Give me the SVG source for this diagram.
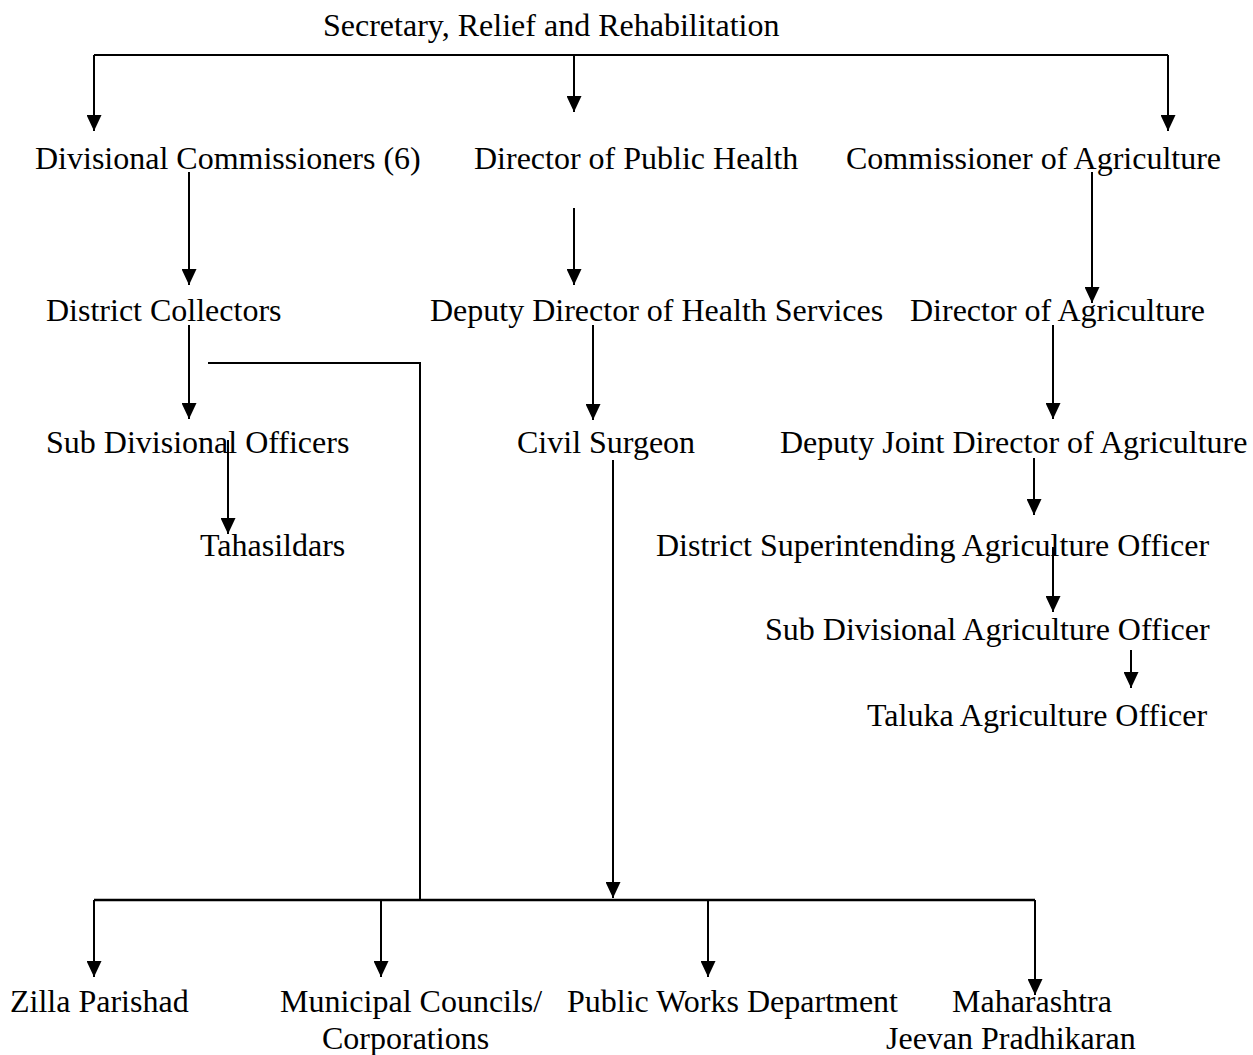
<svg xmlns="http://www.w3.org/2000/svg" width="1253" height="1055" viewBox="0 0 1253 1055">
<style>
text{font-family:"Liberation Serif","Times New Roman",serif;font-size:32px;fill:#000}
.c{fill:none;stroke:#000;stroke-width:2}
</style>
<defs>
<marker id="ah" markerUnits="userSpaceOnUse" viewBox="0 0 16 15" refX="16" refY="7.5" markerWidth="16" markerHeight="15" orient="auto">
<path d="M0,0 L16,7.5 L0,15 z" fill="#000"/>
</marker>
</defs>
<rect width="1253" height="1055" fill="#fff"/>
<g id="connectors">
<path class="c" d="M94,55 H1168"/>
<path class="c" d="M94,55 V131" marker-end="url(#ah)"/>
<path class="c" d="M574,56 V112" marker-end="url(#ah)"/>
<path class="c" d="M1168,55 V131" marker-end="url(#ah)"/>
<path class="c" d="M189,172 V285" marker-end="url(#ah)"/>
<path class="c" d="M574,208 V285" marker-end="url(#ah)"/>
<path class="c" d="M1092,172 V303" marker-end="url(#ah)"/>
<path class="c" d="M189,325 V419" marker-end="url(#ah)"/>
<path class="c" d="M593,325 V420" marker-end="url(#ah)"/>
<path class="c" d="M1053,325 V419" marker-end="url(#ah)"/>
<path class="c" d="M208,363 H420 V900"/>
<path class="c" d="M228,440 V534" marker-end="url(#ah)"/>
<path class="c" d="M613,460 V898" marker-end="url(#ah)"/>
<path class="c" d="M1034,458 V515" marker-end="url(#ah)"/>
<path class="c" d="M1053,547 V612" marker-end="url(#ah)"/>
<path class="c" d="M1131,650 V688" marker-end="url(#ah)"/>
<path class="c" d="M94,900 H1035" style="stroke-width:2.5"/>
<path class="c" d="M94,900 V977" marker-end="url(#ah)"/>
<path class="c" d="M381,900 V977" marker-end="url(#ah)"/>
<path class="c" d="M708,900 V977" marker-end="url(#ah)"/>
<path class="c" d="M1035,900 V995" marker-end="url(#ah)"/>
</g>
<g id="n-secretary"><text x="323" y="36">Secretary, Relief and Rehabilitation</text></g>
<g id="n-divcomm"><text x="35" y="169">Divisional Commissioners (6)</text></g>
<g id="n-dph"><text x="474" y="169">Director of Public Health</text></g>
<g id="n-commagri"><text x="846" y="169">Commissioner of Agriculture</text></g>
<g id="n-collectors"><text x="46" y="321">District Collectors</text></g>
<g id="n-ddhs"><text x="430" y="321">Deputy Director of Health Services</text></g>
<g id="n-diragri"><text x="910" y="321">Director of Agriculture</text></g>
<g id="n-sdo"><text x="46" y="453">Sub Divisional Officers</text></g>
<g id="n-civil"><text x="517" y="453">Civil Surgeon</text></g>
<g id="n-djda"><text x="780" y="453">Deputy Joint Director of Agriculture</text></g>
<g id="n-tahasildars"><text x="200" y="556">Tahasildars</text></g>
<g id="n-dsao"><text x="656" y="556">District Superintending Agriculture Officer</text></g>
<g id="n-sdao"><text x="765" y="640">Sub Divisional Agriculture Officer</text></g>
<g id="n-tao"><text x="867" y="726">Taluka Agriculture Officer</text></g>
<g id="n-zp"><text x="10" y="1012">Zilla Parishad</text></g>
<g id="n-mc"><text x="280" y="1012">Municipal Councils/</text><text x="322" y="1049">Corporations</text></g>
<g id="n-pwd"><text x="567" y="1012">Public Works Department</text></g>
<g id="n-mjp"><text x="952" y="1012">Maharashtra</text><text x="886" y="1049">Jeevan Pradhikaran</text></g>
</svg>
